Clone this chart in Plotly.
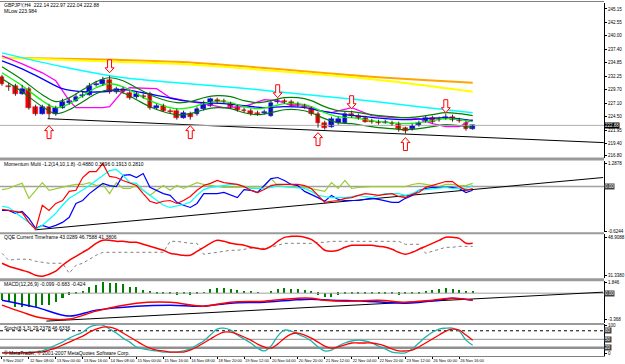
import plotly.graph_objects as go

# ---------------- data ----------------
tick_labels = ["9 Nov 2007", "12 Nov 08:00", "13 Nov 00:00", "13 Nov 16:00", "14 Nov 08:00",
               "15 Nov 00:00", "15 Nov 16:00", "16 Nov 08:00", "18 Nov 20:00", "19 Nov 12:00",
               "20 Nov 04:00", "20 Nov 20:00", "21 Nov 12:00", "22 Nov 04:00", "22 Nov 20:00",
               "23 Nov 12:00", "26 Nov 00:00", "26 Nov 16:00"]
tick_bars = [0, 4, 8, 12, 16, 20, 24, 28, 32, 36, 40, 44, 48, 52, 56, 60, 64, 68]

bars = list(range(71))
open_ = [232.18, 230.40, 230.46, 228.93, 229.89, 226.45, 225.12, 226.45, 225.12, 226.26,
         227.22, 227.60, 228.55, 228.74, 230.65, 230.84, 231.60, 229.31, 229.89, 229.12,
         228.36, 228.55, 228.93, 226.26, 226.64, 225.69, 225.69, 224.35, 225.12, 225.12,
         226.07, 226.64, 227.79, 227.60, 227.02, 226.45, 225.88, 225.69, 225.31, 225.31,
         224.73, 227.41, 227.60, 227.41, 227.02, 226.64, 226.07, 225.12, 223.40, 222.63,
         223.40, 223.40, 225.12, 224.73, 224.35, 223.78, 223.59, 223.40, 223.40, 223.21,
         222.44, 222.25, 223.02, 223.59, 224.35, 224.16, 224.16, 224.54, 223.97, 223.40, 222.14]
high = [232.56, 231.03, 230.84, 230.65, 230.27, 226.83, 226.83, 227.02, 226.64, 227.98,
        228.17, 228.93, 229.31, 231.03, 231.41, 232.18, 232.37, 230.27, 230.27, 229.50,
        229.31, 228.93, 229.31, 227.02, 227.02, 226.07, 226.07, 225.69, 225.50, 226.45,
        227.60, 228.17, 228.17, 227.98, 227.41, 226.83, 226.26, 226.07, 225.69, 225.88,
        227.60, 227.98, 227.98, 227.79, 227.41, 227.02, 226.45, 225.50, 223.78, 224.54,
        224.54, 225.50, 225.69, 225.12, 224.73, 224.16, 223.97, 223.97, 223.78, 223.59,
        222.63, 223.21, 223.78, 224.73, 224.73, 224.54, 225.12, 224.93, 224.35, 223.78, 222.97]
low = [230.46, 229.50, 228.55, 228.74, 225.88, 224.73, 224.93, 224.16, 224.73, 226.07,
       226.83, 227.41, 228.17, 228.55, 230.27, 230.46, 228.93, 228.93, 228.93, 227.79,
       227.98, 227.98, 225.88, 225.88, 225.50, 225.12, 223.97, 224.16, 223.97, 224.73,
       225.69, 226.45, 227.02, 227.02, 226.07, 225.50, 225.31, 224.73, 224.73, 224.93,
       224.54, 227.02, 227.02, 226.45, 226.45, 226.07, 224.73, 222.44, 222.06, 222.44,
       223.02, 223.21, 224.35, 223.97, 223.40, 223.21, 223.02, 223.21, 222.83, 221.68,
       221.30, 221.87, 222.63, 223.40, 223.21, 223.59, 223.97, 223.59, 223.40, 221.87, 222.04]
close = [230.84, 230.30, 228.93, 229.89, 226.26, 225.12, 226.45, 225.12, 226.26, 227.41,
         227.60, 228.36, 228.74, 230.46, 230.84, 231.60, 229.31, 229.89, 229.31, 228.17,
         228.93, 228.36, 226.26, 226.64, 225.69, 225.50, 224.35, 225.31, 224.54, 226.07,
         227.22, 227.98, 227.41, 227.41, 226.45, 225.88, 225.69, 225.12, 225.12, 225.50,
         227.22, 227.60, 227.41, 226.83, 226.83, 226.45, 225.12, 223.40, 222.44, 224.16,
         224.16, 225.12, 224.73, 224.35, 223.59, 223.59, 223.40, 223.59, 223.21, 222.25,
         221.87, 222.83, 223.40, 224.35, 223.59, 223.97, 224.54, 223.97, 223.78, 222.25, 222.88]

slow_x = [0, 9, 17, 26, 35, 44, 53, 62, 70]
orange_ma = [235.80, 235.61, 235.42, 235.04, 234.27, 233.32, 232.37, 231.60, 231.03]
yellow_ma = [235.80, 235.42, 235.04, 234.66, 233.89, 232.94, 231.98, 230.65, 229.31]
cyan_ma = [236.75, 234.08, 232.18, 231.03, 230.08, 228.93, 227.79, 226.45, 225.31]

blue_x = [0, 3, 6, 9, 12, 15, 18, 21, 24, 27, 30, 33, 36, 39, 42, 45, 48, 51, 54, 57, 60, 63, 66, 69, 70]
blue_ma = [235.23, 233.70, 231.79, 229.89, 229.31, 229.31, 229.70, 229.12, 228.36, 227.60, 227.22,
           227.02, 226.64, 226.26, 226.45, 226.26, 225.50, 224.93, 224.54, 224.16, 223.97, 224.16,
           224.35, 223.97, 223.78]

mlow_x = [0, 3, 6, 8, 10, 11, 15, 16, 18, 19, 23, 25, 28, 30, 33, 36, 39, 41, 43, 45, 47, 49,
          52, 55, 58, 60, 62, 64, 66, 68, 70]
mlow = [236.18, 234.66, 232.94, 231.41, 227.60, 226.26, 226.26, 226.45, 229.50, 230.08, 229.89,
        228.17, 227.41, 227.02, 226.26, 226.45, 227.79, 227.60, 226.64, 226.83, 225.69, 225.31,
        226.26, 224.73, 224.35, 224.35, 224.16, 223.21, 222.63, 222.63, 223.98]

band_x = [0, 3, 6, 8, 10, 12, 14, 16, 18, 20, 22, 24, 26, 28, 30, 32, 34, 36, 38, 40, 42, 44,
          46, 48, 50, 52, 54, 56, 58, 60, 62, 64, 66, 68, 70]
band_mid = [232.94, 230.46, 227.60, 226.26, 227.02, 228.55, 230.08, 230.84, 230.27, 228.93, 227.60,
            226.64, 226.07, 226.26, 227.02, 227.41, 227.22, 226.45, 226.07, 226.45, 227.02, 227.02,
            226.45, 225.31, 224.54, 224.35, 223.97, 223.59, 223.40, 223.21, 223.40, 223.78, 224.16,
            223.97, 223.59]
band_up = [234.09, 231.61, 228.75, 227.41, 228.17, 229.70, 231.23, 231.99, 231.42, 230.08, 228.75,
           227.79, 227.22, 227.41, 228.17, 228.56, 228.37, 227.60, 227.22, 227.60, 228.17, 228.17,
           227.60, 226.46, 225.69, 225.50, 225.12, 224.74, 224.55, 224.36, 224.55, 224.93, 225.31,
           225.12, 224.74]
band_dn = [231.79, 229.31, 226.45, 225.11, 225.87, 227.40, 228.93, 229.69, 229.12, 227.78, 226.45,
           225.49, 224.92, 225.11, 225.87, 226.26, 226.07, 225.30, 224.92, 225.30, 225.87, 225.87,
           225.30, 224.16, 223.39, 223.20, 222.82, 222.44, 222.25, 222.06, 222.25, 222.63, 223.01,
           222.82, 222.44]

arrow_dn_bars = [16, 41, 52, 66]
arrow_dn_tip = [232.94, 228.17, 226.07, 225.31]
arrow_up_bars = [7, 28, 47, 60]
arrow_up_tip = [222.83, 222.83, 221.49, 220.54]

trend_main_x = [6.8, 89.5]
trend_main_y = [224.16, 219.58]
bid_price = 222.88

mom_red = [-0.02, -0.05, -0.08, -0.11, -0.38, -0.57, 0.09, -0.05, 0.14, 0.22,
           0.47, 0.50, 0.85, 1.01, 1.01, 1.23, 0.88, 0.85, 0.77, 0.69,
           0.63, 0.41, 0.20, 0.14, 0.20, 0.22, 0.14, 0.22, 0.33, 0.50,
           0.63, 0.69, 0.77, 0.71, 0.69, 0.66, 0.60, 0.50, 0.44, 0.52,
           0.63, 0.66, 0.66, 0.66, 0.66, 0.63, 0.55, 0.36, 0.17, 0.20,
           0.22, 0.28, 0.30, 0.36, 0.41, 0.39, 0.36, 0.39, 0.41, 0.33,
           0.30, 0.39, 0.44, 0.58, 0.63, 0.69, 0.74, 0.74, 0.60, 0.50, 0.55]
mom_cyan = [0.06, 0.03, -0.11, -0.24, -0.38, -0.57, -0.46, -0.30, -0.13, 0.09,
            0.28, 0.39, 0.50, 0.63, 0.77, 0.91, 1.04, 1.07, 0.91, 0.71,
            0.69, 0.50, 0.36, 0.22, 0.09, 0.03, 0.06, 0.11, 0.17, 0.36,
            0.52, 0.58, 0.60, 0.63, 0.66, 0.66, 0.60, 0.55, 0.55, 0.55,
            0.58, 0.63, 0.60, 0.58, 0.58, 0.55, 0.47, 0.36, 0.33, 0.30,
            0.30, 0.30, 0.33, 0.36, 0.33, 0.30, 0.36, 0.41, 0.41, 0.41,
            0.36, 0.41, 0.50, 0.52, 0.55, 0.58, 0.58, 0.55, 0.55, 0.55, 0.63]
mom_blue = [-0.05, -0.05, -0.13, -0.08, -0.27, -0.54, -0.46, -0.52, -0.46, -0.38,
            -0.24, 0.14, 0.22, 0.41, 0.55, 0.69, 0.63, 0.60, 0.91, 0.93,
            0.85, 0.96, 0.58, 0.50, 0.41, 0.36, 0.17, 0.09, 0.03, 0.14,
            0.41, 0.41, 0.41, 0.44, 0.36, 0.30, 0.52, 0.50, 0.44, 0.63,
            0.82, 0.85, 0.77, 0.66, 0.63, 0.47, 0.39, 0.30, 0.20, 0.36,
            0.25, 0.22, 0.22, 0.22, 0.25, 0.28, 0.25, 0.22, 0.17, 0.17,
            0.28, 0.36, 0.50, 0.55, 0.58, 0.58, 0.58, 0.58, 0.55, 0.44, 0.50]
mom_yg = [0.52, 0.55, 0.63, 0.69, 0.28, 0.50, 0.71, 0.50, 0.55, 0.60,
          0.63, 0.66, 0.66, 0.71, 0.63, 0.66, 0.41, 0.71, 0.55, 0.55,
          0.63, 0.50, 0.36, 0.50, 0.63, 0.50, 0.63, 0.55, 0.63, 0.71,
          0.66, 0.63, 0.60, 0.58, 0.58, 0.58, 0.58, 0.60, 0.60, 0.60,
          0.82, 0.63, 0.60, 0.58, 0.58, 0.58, 0.55, 0.50, 0.47, 0.71,
          0.55, 0.77, 0.55, 0.58, 0.60, 0.60, 0.60, 0.60, 0.58, 0.58,
          0.60, 0.66, 0.69, 0.66, 0.63, 0.60, 0.66, 0.66, 0.63, 0.63, 0.69]
mom_level = 0.604
trend_mom_x = [4.87, 89.4]
trend_mom_y = [-0.584, 0.850]

qqe_rsi = [36.89, 35.50, 34.57, 33.65, 32.73, 31.34, 30.88, 31.80, 33.19, 35.96,
           38.27, 40.12, 41.97, 43.82, 46.13, 47.52, 47.52, 47.06, 47.06, 46.60,
           46.60, 45.67, 44.75, 43.82, 42.90, 41.51, 41.05, 40.59, 40.59, 42.44,
           44.29, 46.13, 47.52, 47.06, 46.13, 45.67, 45.21, 44.29, 43.82, 43.36,
           44.75, 47.06, 48.91, 49.37, 49.37, 48.91, 47.98, 45.67, 42.90, 42.44,
           42.90, 44.29, 45.21, 45.21, 45.21, 45.21, 44.75, 44.29, 43.36, 41.97,
           41.05, 41.97, 43.36, 44.75, 46.13, 47.52, 48.91, 48.91, 48.45, 46.13, 46.13]
qqe_trail = [41.51, 38.27, 38.74, 38.74, 38.74, 37.81, 37.35, 36.89, 36.89, 36.89,
             32.26, 35.96, 36.89, 38.74, 40.59, 41.97, 41.97, 41.97, 41.97, 41.97,
             41.97, 41.97, 41.97, 41.97, 41.97, 47.06, 47.06, 46.60, 46.13, 46.13,
             41.05, 41.51, 41.97, 42.44, 42.90, 42.90, 43.36, 43.82, 43.82, 43.82,
             44.29, 45.21, 46.13, 46.13, 46.13, 46.13, 46.13, 46.60, 46.60, 47.06,
             47.06, 47.06, 47.06, 47.06, 47.06, 47.06, 47.06, 47.06, 47.06, 47.06,
             45.67, 45.67, 45.67, 41.51, 42.44, 43.36, 44.29, 44.29, 44.75, 44.75, 44.75]

macd_hist = [-0.91, -1.13, -1.79, -1.86, -1.86, -1.86, -1.56, -1.56, -1.13, -0.69,
             -0.26, -0.04, 0.17, 0.74, 1.04, 1.47, 1.26, 1.26, 1.13, 0.82,
             0.74, 0.39, 0.13, -0.04, -0.17, -0.17, -0.26, -0.17, -0.26, -0.04,
             0.04, 0.52, 0.65, 0.65, 0.52, 0.39, 0.30, 0.17, 0.04, 0.00,
             0.30, 0.52, 0.65, 0.56, 0.52, 0.39, 0.17, -0.26, -0.48, -0.48,
             -0.26, -0.13, -0.13, -0.07, -0.17, -0.13, -0.07, -0.17, -0.17, -0.26,
             -0.17, -0.13, -0.07, 0.13, 0.39, 0.52, 0.61, 0.52, 0.39, 0.26, 0.17]
macd_red_x = [0, 3, 6, 10, 14, 20, 25, 30, 34, 39, 44, 46, 48, 51, 56, 60, 64, 67, 70]
macd_red = [-1.56, -2.47, -3.25, -3.38, -2.34, -1.30, -1.17, -1.69, -1.17, -1.04, -0.65, -0.65,
            -0.91, -1.04, -0.91, -1.17, -0.91, -0.65, -0.91]
macd_blue_x = [0, 5, 10, 14, 20, 25, 30, 34, 39, 43, 46, 49, 54, 60, 65, 67, 70]
macd_blue = [-0.91, -1.82, -2.99, -2.21, -1.69, -1.56, -1.69, -1.30, -1.17, -0.91, -0.78, -0.91,
             -1.04, -1.30, -0.91, -0.65, -0.91]
trend_macd_x = [6.6, 89.4]
trend_macd_y = [-3.64, 0.13]

stoch_main = [2, 2, 2, 2, 5, 5, 9, 19, 30, 40,
              54, 65, 75, 93, 100, 100, 86, 72, 54, 40,
              23, 16, 12, 9, 5, 5, 5, 9, 16, 30,
              44, 65, 86, 89, 82, 65, 51, 37, 19, 9,
              26, 61, 82, 79, 68, 58, 44, 23, 9, 12,
              26, 37, 44, 47, 44, 37, 26, 16, 5, 2,
              2, 16, 37, 58, 75, 86, 89, 89, 79, 47, 29]
stoch_signal = [2, 2, 2, 2, 2, 5, 5, 12, 19, 30,
                40, 51, 61, 75, 86, 93, 93, 86, 72, 58,
                44, 30, 19, 12, 9, 5, 5, 5, 12, 23,
                37, 51, 65, 75, 75, 68, 58, 47, 33, 23,
                19, 33, 54, 68, 72, 65, 54, 40, 26, 19,
                23, 30, 37, 37, 37, 37, 33, 26, 16, 9,
                9, 12, 23, 37, 51, 65, 79, 86, 82, 65, 47]
stoch_levels = [80, 50, 20]

# ---------------- layout geometry ----------------
W, HT = 625, 364
MR, MB = 16, 8
PH = HT - MB
BAR_PX = 6.78
XR = [-2 / BAR_PX, (W - MR - 2) / BAR_PX]


def dom(top, bot):
    return [(PH - bot) / PH, (PH - top) / PH]


def py(px):
    return (PH - px) / PH


main_rng = [216.72, 246.294]
PRICE_PER_PX = (main_rng[1] - main_rng[0]) / 155.0

fig = go.Figure()

# main pane lines
fig.add_trace(go.Scatter(x=slow_x, y=orange_ma, mode="lines", line=dict(color="#FFA500", width=2, shape="spline"), yaxis="y"))
fig.add_trace(go.Scatter(x=slow_x, y=yellow_ma, mode="lines", line=dict(color="#FFFF00", width=2, shape="spline"), yaxis="y"))
fig.add_trace(go.Scatter(x=slow_x, y=cyan_ma, mode="lines", line=dict(color="#00FFFF", width=1.5, shape="spline"), yaxis="y"))
fig.add_trace(go.Scatter(x=mlow_x, y=mlow, mode="lines", line=dict(color="#FF00FF", width=1.3), yaxis="y"))
fig.add_trace(go.Scatter(x=blue_x, y=blue_ma, mode="lines", line=dict(color="#0000FF", width=1.3, shape="spline"), yaxis="y"))
fig.add_trace(go.Scatter(x=band_x, y=band_up, mode="lines", line=dict(color="#008000", width=1.2, shape="spline"), yaxis="y"))
fig.add_trace(go.Scatter(x=band_x, y=band_dn, mode="lines", line=dict(color="#008000", width=1.2, shape="spline"), yaxis="y"))
fig.add_trace(go.Scatter(x=band_x, y=band_mid, mode="lines", line=dict(color="#00FF00", width=1.3, shape="spline"), yaxis="y"))
fig.add_trace(go.Scatter(x=trend_main_x, y=trend_main_y, mode="lines", line=dict(color="#000000", width=1), yaxis="y"))
fig.add_trace(go.Scatter(x=[XR[0], XR[1]], y=[bid_price, bid_price], mode="lines", line=dict(color="#B0B0B0", width=1), yaxis="y"))

# candles: dark wicks, then coloured bodies
wick_x, wick_y = [], []
for b, h, l in zip(bars, high, low):
    wick_x += [b, b, None]
    wick_y += [h, l, None]
fig.add_trace(go.Scatter(x=wick_x, y=wick_y, mode="lines", line=dict(color="#303030", width=1), yaxis="y"))
body_base = [min(o, c) for o, c in zip(open_, close)]
body_len = [max(abs(c - o), 0.12) for o, c in zip(open_, close)]
body_col = ["#0000FF" if c >= o else "#FF0000" for o, c in zip(open_, close)]
fig.add_trace(go.Bar(x=bars, y=body_len, base=body_base, width=0.72,
                     marker=dict(color=body_col, line=dict(color=body_col, width=0.5)), yaxis="y"))


def arrows(bx, tips, down):
    shape = [(0, 0), (4.5, 5), (2, 5), (2, 13), (-2, 13), (-2, 5), (-4.5, 5), (0, 0)]
    X, Y = [], []
    for b, t in zip(bx, tips):
        for dx, dy in shape:
            X.append(b + dx / BAR_PX)
            Y.append(t + (dy if down else -dy) * PRICE_PER_PX)
        X.append(None)
        Y.append(None)
    return X, Y


for bx, tips, down in [(arrow_dn_bars, arrow_dn_tip, True), (arrow_up_bars, arrow_up_tip, False)]:
    ax_, ay_ = arrows(bx, tips, down)
    fig.add_trace(go.Scatter(x=ax_, y=ay_, mode="lines", fill="toself", fillcolor="#FFFFFF",
                             line=dict(color="#FF0000", width=1), yaxis="y"))

# momentum pane
fig.add_trace(go.Scatter(x=[XR[0], XR[1]], y=[mom_level, mom_level], mode="lines", line=dict(color="#A0A0A0", width=1.5), yaxis="y2"))
fig.add_trace(go.Scatter(x=trend_mom_x, y=trend_mom_y, mode="lines", line=dict(color="#000000", width=1), yaxis="y2"))
fig.add_trace(go.Scatter(x=bars, y=mom_yg, mode="lines", line=dict(color="#9ACD32", width=1.2), yaxis="y2"))
fig.add_trace(go.Scatter(x=bars, y=mom_blue, mode="lines", line=dict(color="#0000FF", width=1.2), yaxis="y2"))
fig.add_trace(go.Scatter(x=bars, y=mom_cyan, mode="lines", line=dict(color="#00FFFF", width=1.2), yaxis="y2"))
fig.add_trace(go.Scatter(x=bars, y=mom_red, mode="lines", line=dict(color="#FF0000", width=1.2), yaxis="y2"))

# QQE pane
fig.add_trace(go.Scatter(x=bars, y=qqe_trail, mode="lines", line=dict(color="#808080", width=1, dash="dot"), yaxis="y3"))
fig.add_trace(go.Scatter(x=bars, y=qqe_rsi, mode="lines", line=dict(color="#FF0000", width=1.5, shape="spline"), yaxis="y3"))

# MACD pane
fig.add_trace(go.Bar(x=bars, y=macd_hist, marker=dict(color="#008000", line=dict(width=0)), width=0.3, yaxis="y4"))
fig.add_trace(go.Scatter(x=[XR[0], XR[1]], y=[0, 0], mode="lines", line=dict(color="#A0A0A0", width=1), yaxis="y4"))
fig.add_trace(go.Scatter(x=trend_macd_x, y=trend_macd_y, mode="lines", line=dict(color="#000000", width=1), yaxis="y4"))
fig.add_trace(go.Scatter(x=macd_blue_x, y=macd_blue, mode="lines", line=dict(color="#0000FF", width=1.5, shape="spline"), yaxis="y4"))
fig.add_trace(go.Scatter(x=macd_red_x, y=macd_red, mode="lines", line=dict(color="#FF0000", width=1.5, shape="spline"), yaxis="y4"))

# Stoch pane
fig.add_trace(go.Scatter(x=[XR[0], XR[1]], y=[stoch_levels[0]] * 2, mode="lines", line=dict(color="#000000", width=1, dash="dot"), yaxis="y5"))
fig.add_trace(go.Scatter(x=[XR[0], XR[1]], y=[stoch_levels[1]] * 2, mode="lines", line=dict(color="#909090", width=1), yaxis="y5"))
fig.add_trace(go.Scatter(x=[XR[0], XR[1]], y=[stoch_levels[2]] * 2, mode="lines", line=dict(color="#909090", width=2.5), yaxis="y5"))
fig.add_trace(go.Scatter(x=bars, y=stoch_main, mode="lines", line=dict(color="#20B2AA", width=1.3, shape="spline"), yaxis="y5"))
fig.add_trace(go.Scatter(x=bars, y=stoch_signal, mode="lines", line=dict(color="#FF0000", width=1.3, shape="spline"), yaxis="y5"))

FONT = "Liberation Sans, Arial, sans-serif"
tickfont = dict(family=FONT, size=4.5, color="#000000")
yax_common = dict(side="right", anchor="x", showgrid=False, zeroline=False, showline=True,
                  linecolor="#000000", linewidth=1, ticks="outside", ticklen=2, tickcolor="#000000",
                  tickfont=tickfont, fixedrange=True)

fig.update_layout(
    width=W, height=HT,
    margin=dict(l=0, r=MR, t=0, b=MB),
    paper_bgcolor="#FFFFFF", plot_bgcolor="#FFFFFF",
    showlegend=False, bargap=0, barmode="overlay",
    xaxis=dict(range=XR, anchor="y5", showgrid=False, zeroline=False, showline=True,
               linecolor="#808080", ticks="outside", ticklen=2, tickcolor="#000000",
               tickvals=tick_bars, ticktext=tick_labels, ticklabelposition="outside right",
               tickangle=0, tickfont=dict(family=FONT, size=4, color="#000000"),
               rangeslider=dict(visible=False), fixedrange=True),
    yaxis=dict(domain=dom(2, 157), range=main_rng,
               tickvals=[245.15, 242.55, 240.00, 237.40, 234.85, 232.25, 229.70, 227.10, 224.50, 221.95, 219.40, 217.10],
               ticktext=["245.15", "242.55", "240.00", "237.40", "234.85", "232.25", "229.70", "227.10", "224.50", "221.95", "219.40", "216.80"],
               **yax_common),
    yaxis2=dict(domain=dom(160, 232), range=[-0.652, 1.315],
                tickvals=[1.24, -0.6244], ticktext=["1.2878", "-0.6244"], **yax_common),
    yaxis3=dict(domain=dom(234, 278), range=[29.95, 50.30],
                tickvals=[48.9088, 31.338], ticktext=["48.9088", "31.3380"], **yax_common),
    yaxis4=dict(domain=dom(281, 323), range=[-3.9, 1.56],
                tickvals=[1.40, -3.368], ticktext=["1.846", "-3.368"], **yax_common),
    yaxis5=dict(domain=dom(324, 356), range=[-8.77, 103.5],
                tickvals=[100, 0], ticktext=["100", "0"], **yax_common),
)

# pane separators
shapes = []
for top, bot in [(157, 160), (232, 234), (278, 281), (323, 325)]:
    shapes.append(dict(type="rect", xref="paper", yref="paper", x0=0, x1=1, y0=py(bot), y1=py(top),
                       fillcolor="#9A9A9A", line=dict(width=0), layer="above"))
shapes.append(dict(type="line", xref="paper", yref="paper", x0=0, x1=1, y0=py(0.5), y1=py(0.5),
                   line=dict(color="#808080", width=1)))
fig.update_layout(shapes=shapes)

hfont = dict(family=FONT, size=5, color="#000000")
headers = [
    (4, "GBPJPY,H4  222.14 222.97 222.04 222.88"),
    (10, "MLow 223.984"),
    (163, "Momentum Multi -1.2(14,10,1.8) -0.4880 0.3696 0.1913 0.2810"),
    (237, "QQE Current Timeframe 43.0289 46.7588 41.3806"),
    (284, "MACD(12,26,9) -0.099 -0.683 -0.424"),
    (328, "Stoch(8,3,3) 29.2378 46.6336"),
    (353, "© MetaTrader, © 2001-2007 MetaQuotes Software Corp."),
]
ann = []
for ypx, txt in headers:
    ann.append(dict(xref="paper", yref="paper", x=0.004, y=py(ypx), xanchor="left", yanchor="middle",
                    text=txt, showarrow=False, font=hfont))

boxes = [("y", bid_price, "222.88", "#000000"), ("y2", mom_level, "0.00", "#404040"),
         ("y4", 0, "0.00", "#404040"), ("y5", 80, "80", "#404040"), ("y5", 50, "50", "#404040"),
         ("y5", 20, "20", "#404040")]
for yr, val, txt, bg in boxes:
    ann.append(dict(xref="paper", yref=yr, x=1.0, y=val, xanchor="left", yanchor="middle", text=txt,
                    showarrow=False, bgcolor=bg, borderpad=0,
                    font=dict(family=FONT, size=4.5, color="#FFFFFF")))
fig.update_layout(annotations=ann)

fig.write_html("out.html")
